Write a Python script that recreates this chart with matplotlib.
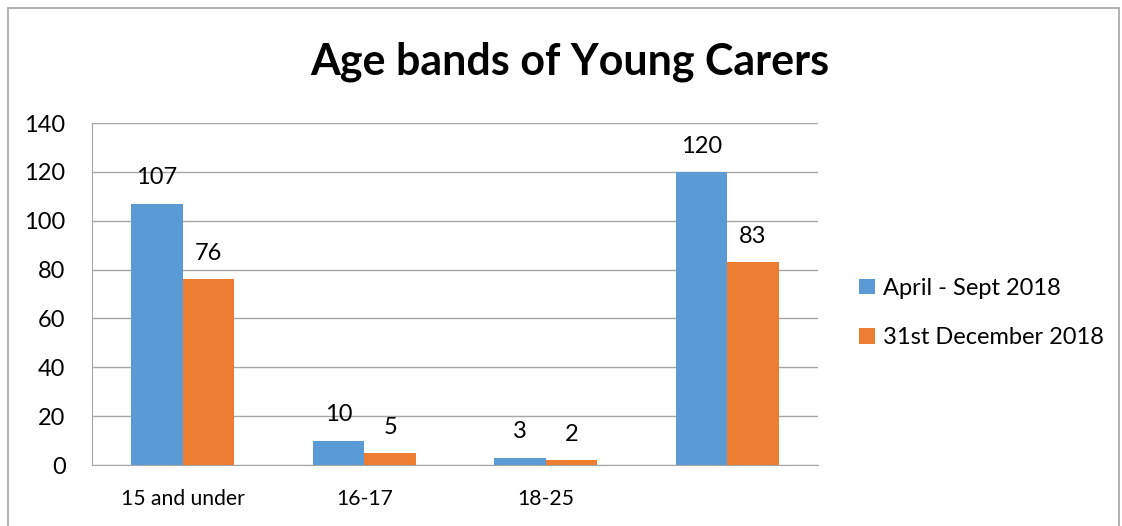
import matplotlib
matplotlib.use("Agg")
import matplotlib.pyplot as plt
import numpy as np
from matplotlib.patches import Rectangle

categories = ["15 and under", "16-17", "18-25", ""]
series_names = ["April - Sept 2018", "31st December 2018"]
april_sept = [107, 10, 3, 120]
december = [76, 5, 2, 83]
colors = ["#5B9BD5", "#ED7D31"]

plt.rcParams['font.family'] = ['Lato', 'DejaVu Sans']

fig = plt.figure(figsize=(11.22, 5.26), dpi=100)
ax = fig.add_axes([92/1122, 1-465/526, (818-92)/1122, (465-123)/526])

x = np.arange(len(categories))
w = 0.285
b1 = ax.bar(x - w/2, april_sept, w, color=colors[0], label=series_names[0], zorder=3)
b2 = ax.bar(x + w/2, december, w, color=colors[1], label=series_names[1], zorder=3)
for bars in (b1, b2):
    ax.bar_label(bars, padding=11, fontsize=17)

ax.set_xlim(-0.5, len(categories) - 0.5)
ax.set_ylim(0, 140)
ax.set_yticks(range(0, 141, 20))
ax.set_xticks(x)
ax.set_xticklabels(categories)
ax.tick_params(axis='both', length=0)
ax.tick_params(axis='y', labelsize=17, pad=19)
ax.tick_params(axis='x', labelsize=15.2, pad=17)
ax.grid(axis='y', color='#A6A6A6', linewidth=1, zorder=0)
for s in ['top', 'right']:
    ax.spines[s].set_visible(False)
for s in ['left', 'bottom']:
    ax.spines[s].set_color('#A6A6A6')
    ax.spines[s].set_zorder(4)

fig.text(0.508, 0.882, "Age bands of Young Carers", ha='center', va='center',
         fontsize=31, fontweight='bold')

fig.legend(loc='center left', bbox_to_anchor=(838/1122, 1-313/526), frameon=False,
           fontsize=17, handlelength=0.65, handleheight=0.65, handletextpad=0.35,
           labelspacing=1.2)

fig.patches.append(Rectangle((8/1122, -0.05), (1119-8)/1122, 1.05 - 8/526,
                             transform=fig.transFigure, fill=False,
                             edgecolor='#A6A6A6', linewidth=1.2))

fig.savefig("out.png", dpi=100)
